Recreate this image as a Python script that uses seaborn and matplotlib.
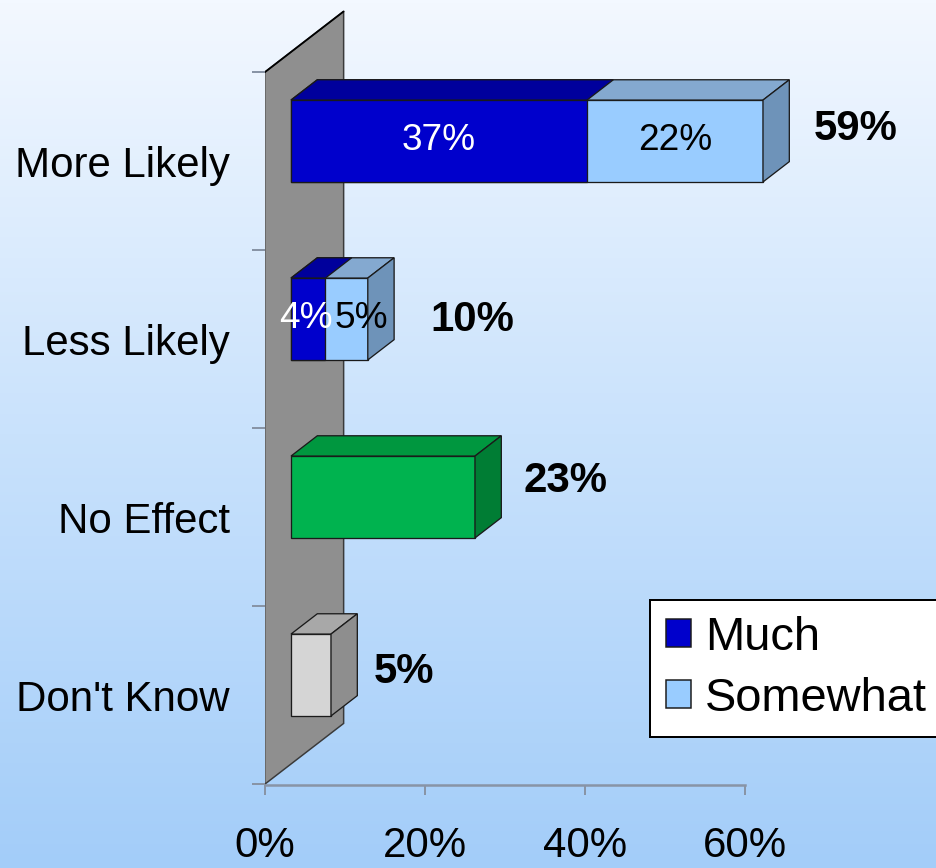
import numpy as np
import pandas as pd
import matplotlib
matplotlib.use("Agg")
import matplotlib.pyplot as plt
import seaborn as sns
from matplotlib.patches import Polygon, Patch
from matplotlib.colors import LinearSegmentedColormap

# ---- data -------------------------------------------------------------
categories = ["More Likely", "Less Likely", "No Effect", "Don't Know"]
split_categories = ["More Likely", "Less Likely"]
much = [37, 4.3]
somewhat = [22, 5.3]
single_categories = ["No Effect", "Don't Know"]
single_values = [23, 5]
x_ticks = [0, 20, 40, 60]
series_names = ["Much", "Somewhat"]

# ---- styling ----------------------------------------------------------
sns.set_theme(style="white")
plt.rcParams["font.family"] = ["Liberation Sans", "DejaVu Sans"]
plt.rcParams["text.color"] = "black"
plt.rcParams["xtick.labelcolor"] = "black"
plt.rcParams["ytick.labelcolor"] = "black"

MUCH_FRONT, MUCH_TOP = "#0000cc", "#00009c"
SOME_FRONT, SOME_TOP, SOME_SIDE = "#99ccff", "#84a9d0", "#6e93b9"
total_front = {"More Likely": SOME_FRONT, "Less Likely": SOME_FRONT,
               "No Effect": "#00b34f", "Don't Know": "#d5d5d5"}
total_top = {"More Likely": SOME_TOP, "Less Likely": SOME_TOP,
             "No Effect": "#00973f", "Don't Know": "#a8a8a8"}
total_side = {"More Likely": SOME_SIDE, "Less Likely": SOME_SIDE,
              "No Effect": "#007d34", "Don't Know": "#8e8e8e"}
EDGE = "#1a1a1a"
AXIS_GRAY = "#8894a6"

# oblique depth step (one third of the wall depth), in data units
DX, DY = 3.29, -0.114
BAR_W = 0.46

W, H, DPI = 936, 868, 72
fig = plt.figure(figsize=(W / DPI, H / DPI), dpi=DPI)

# background gradient
bg = fig.add_axes([0, 0, 1, 1], zorder=0)
cmap = LinearSegmentedColormap.from_list("bg", ["#f3f8ff", "#c9e2fc", "#a3cdf9"])
bg.imshow(np.linspace(0, 1, 256)[:, None], aspect="auto", cmap=cmap,
          extent=[0, 1, 0, 1])
bg.axis("off")

# plotting area: 8 px per percent, 178 px per category
left_px, top_px = 291 - DX * 8, 141 - 0.79 * 178
ax = fig.add_axes([left_px / W, (H - (top_px + 4.41 * 178)) / H,
                   480 / W, 4.41 * 178 / H], zorder=1)
ax.patch.set_alpha(0)

# side wall
y_top_b, y_bot_b = -0.5 - DY, 3.5 - DY
wall = Polygon([(-DX, y_bot_b), (-DX, y_top_b), (2 * DX, y_top_b + 3 * DY),
                (2 * DX, y_bot_b + 3 * DY)], closed=True, facecolor="#8f8f8f",
               edgecolor="#3a3a3a", linewidth=1.5, zorder=0.5)
ax.add_patch(wall)
ax.plot([-DX, 2 * DX], [y_top_b, y_top_b + 3 * DY], color="black", lw=1.8,
        zorder=0.6, solid_capstyle="round")

# front faces: totals first, then the "Much" share on top
totals = [m + s for m, s in zip(much, somewhat)] + list(single_values)
df_total = pd.DataFrame({"category": categories, "value": totals})
df_much = pd.DataFrame({"category": split_categories, "value": much})

n0 = len(ax.patches)
sns.barplot(data=df_total, x="value", y="category", hue="category",
            palette=[total_front[c] for c in categories], order=categories,
            hue_order=categories, orient="h", width=BAR_W, saturation=1,
            errorbar=None, edgecolor=EDGE, linewidth=1.3, legend=False, ax=ax)
n1 = len(ax.patches)
sns.barplot(data=df_much, x="value", y="category", color=MUCH_FRONT,
            order=categories, orient="h", width=BAR_W, saturation=1,
            errorbar=None, edgecolor=EDGE, linewidth=1.3, ax=ax)

total_rects = sorted([p for p in ax.patches[n0:n1] if p.get_width() > 0],
                     key=lambda r: r.get_y())
much_rects = sorted([p for p in ax.patches[n1:] if p.get_width() > 0],
                    key=lambda r: r.get_y())
for p in total_rects + much_rects:
    p.set_clip_on(False)


def top_face(r, color):
    x0, x1, y0 = r.get_x(), r.get_x() + r.get_width(), r.get_y()
    ax.add_patch(Polygon([(x0, y0), (x1, y0), (x1 + DX, y0 + DY),
                          (x0 + DX, y0 + DY)], closed=True, facecolor=color,
                         edgecolor=EDGE, linewidth=1.3, zorder=2,
                         clip_on=False))


def side_face(r, color):
    x1, y0 = r.get_x() + r.get_width(), r.get_y()
    y1 = y0 + r.get_height()
    ax.add_patch(Polygon([(x1, y0), (x1, y1), (x1 + DX, y1 + DY),
                          (x1 + DX, y0 + DY)], closed=True, facecolor=color,
                         edgecolor=EDGE, linewidth=1.3, zorder=2,
                         clip_on=False))


for cat, r in zip(categories, total_rects):
    top_face(r, total_top[cat])
    side_face(r, total_side[cat])
for r in much_rects:
    top_face(r, MUCH_TOP)

# segment labels on the front faces
seg_nudge_much = [0, -2]
seg_nudge_some = [0, 15]
for i, (m, s) in enumerate(zip(much, somewhat)):
    ax.annotate(f"{m:.0f}%", (m / 2, i), xytext=(seg_nudge_much[i], 0),
                textcoords="offset points", ha="center", va="center",
                fontsize=37, color="white", zorder=3, annotation_clip=False)
    ax.annotate(f"{s:.0f}%", (m + s / 2, i), xytext=(seg_nudge_some[i], 0),
                textcoords="offset points", ha="center", va="center",
                fontsize=37, color="black", zorder=3, annotation_clip=False)

# total labels beside each bar
total_offsets = [(24, 1), (36, -12), (22, 5), (16, -8)]
for i, t in enumerate(totals):
    ax.annotate(f"{t:.0f}%", (t + DX, i), xytext=total_offsets[i],
                textcoords="offset points", ha="left", va="baseline",
                fontsize=42, fontweight="bold", color="black",
                annotation_clip=False, zorder=3)

# axes
ax.set_xlim(-DX, -DX + 60)
ax.set_ylim(3.62, -0.79)
ax.set_xlabel("")
ax.set_ylabel("")
ax.set_xticks([t - DX for t in x_ticks])
ax.set_xticklabels([f"{t}%" for t in x_ticks], fontsize=42, color="black")
ax.set_yticks([i - DY for i in range(len(categories))])
ax.set_yticklabels(categories, fontsize=42, color="black")
ax.set_yticks([i - 0.5 - DY for i in range(len(categories) + 1)], minor=True)
ax.tick_params(axis="y", which="major", length=0, pad=35)
ax.tick_params(axis="y", which="minor", length=13, width=2, color=AXIS_GRAY,
               left=True)
ax.tick_params(axis="x", which="major", length=10, width=2, color=AXIS_GRAY,
               pad=31, bottom=True)
for side in ["left", "top", "right"]:
    ax.spines[side].set_visible(False)
ax.spines["bottom"].set_color(AXIS_GRAY)
ax.spines["bottom"].set_linewidth(2.5)
ax.grid(False)

# legend
handles = [Patch(facecolor=MUCH_FRONT, edgecolor=EDGE, linewidth=1.5),
           Patch(facecolor=SOME_FRONT, edgecolor=EDGE, linewidth=1.5)]
leg = fig.legend(handles, series_names, loc="upper left",
                 bbox_to_anchor=(650 / W, 1 - 600 / H), fontsize=47,
                 handlelength=0.53, handleheight=0.53, handletextpad=0.3,
                 borderpad=0.34, labelspacing=0.36, borderaxespad=0,
                 fancybox=False, framealpha=1, facecolor="white",
                 edgecolor="black")
leg.get_frame().set_linewidth(2)
leg.set_zorder(5)
for txt in leg.get_texts():
    txt.set_color("black")

fig.savefig("out.png", dpi=DPI)
